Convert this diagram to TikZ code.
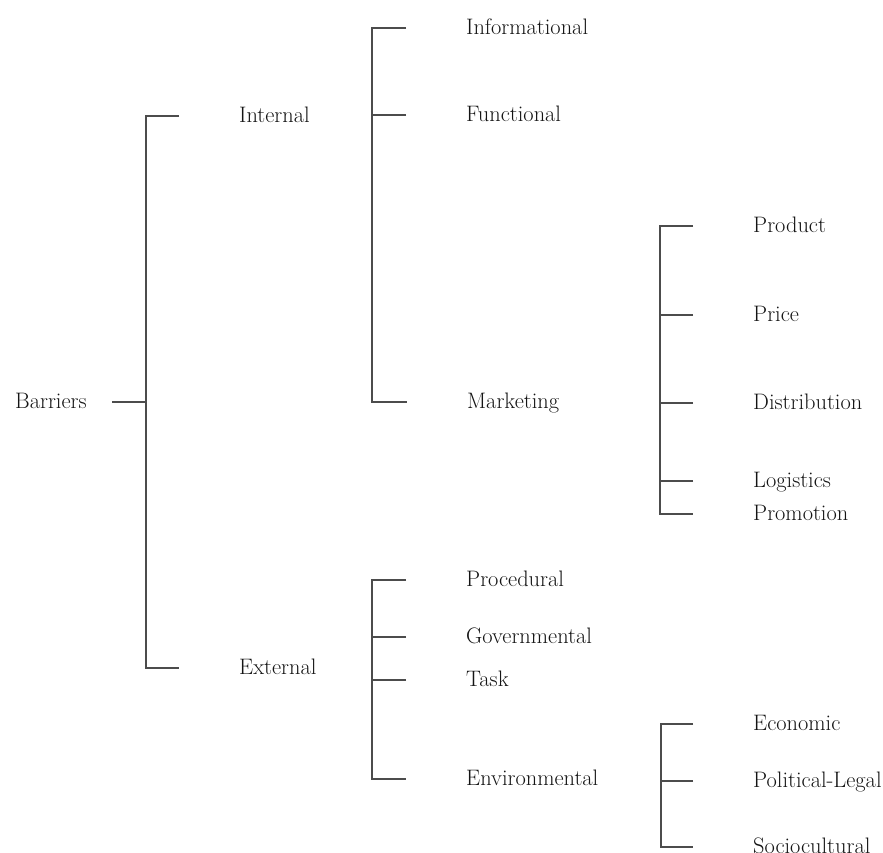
\documentclass[tikz,border=0pt]{standalone}
\usepackage{fontspec}
\setmainfont{Latin Modern Roman}
\begin{document}
\begin{tikzpicture}[x=1pt,y=-1pt,
  label/.style={anchor=west,inner sep=0pt,text height=13.5pt,text depth=0pt,
    text=black!92,font=\fontsize{22.4}{26}\selectfont},
  branch/.style={draw=black!70,line width=1.5pt}]
\useasboundingbox (0,0) rectangle (883,852);

% level 0 and 1
\node[label] (barriers) at (15,402) {Barriers};
\node[label] (internal) at (239,116) {Internal};
\node[label] (external) at (239,668) {External};

% internal barriers
\node[label] (informational) at (466,28)  {Informational};
\node[label] (functional)    at (466,115) {Functional};
\node[label] (marketing)     at (467,402) {Marketing};

% marketing barriers
\node[label] (product)      at (753,226) {Product};
\node[label] (price)        at (753,315) {Price};
\node[label] (distribution) at (753,403) {Distribution};
\node[label] (logistics)    at (753,481) {Logistics};
\node[label] (promotion)    at (753,514) {Promotion};

% external barriers
\node[label] (procedural)    at (466,580) {Procedural};
\node[label] (governmental)  at (466,637) {Governmental};
\node[label] (task)          at (466,680) {Task};
\node[label] (environmental) at (466,779) {Environmental};

% environmental barriers
\node[label] (economic)      at (753,724) {Economic};
\node[label] (political)     at (753,781) {Political-Legal};
\node[label] (sociocultural) at (753,847) {Sociocultural};

% bracket columns
\coordinate (c0) at (146,402);
\coordinate (c1) at (372,0);
\coordinate (c2) at (660,0);
\coordinate (c3) at (661,0);

% Barriers -> Internal / External
\draw[branch] ([xshift=-34pt]c0) -- (c0);
\draw[branch] ([xshift=-60pt]internal.west) -| (c0) |- ([xshift=-60pt]external.west);

% Internal -> Informational / Functional / Marketing
\draw[branch] ([xshift=-60pt]informational.west) -| (c1 |- marketing.west) -- ([xshift=-60pt]marketing.west);
\draw[branch] ([xshift=-60pt]functional.west) -- (c1 |- functional.west);

% Marketing -> Product ... Promotion
\draw[branch] ([xshift=-60pt]product.west) -| (c2 |- promotion.west) -- ([xshift=-60pt]promotion.west);
\foreach \n in {price,distribution,logistics}
  \draw[branch] ([xshift=-60pt]\n.west) -- (c2 |- \n.west);

% External -> Procedural ... Environmental
\draw[branch] ([xshift=-60pt]procedural.west) -| (c1 |- environmental.west) -- ([xshift=-60pt]environmental.west);
\foreach \n in {governmental,task}
  \draw[branch] ([xshift=-60pt]\n.west) -- (c1 |- \n.west);

% Environmental -> Economic / Political-Legal / Sociocultural
\draw[branch] ([xshift=-60pt]economic.west) -| (c3 |- sociocultural.west) -- ([xshift=-60pt]sociocultural.west);
\draw[branch] ([xshift=-60pt]political.west) -- (c3 |- political.west);
\end{tikzpicture}
\end{document}
